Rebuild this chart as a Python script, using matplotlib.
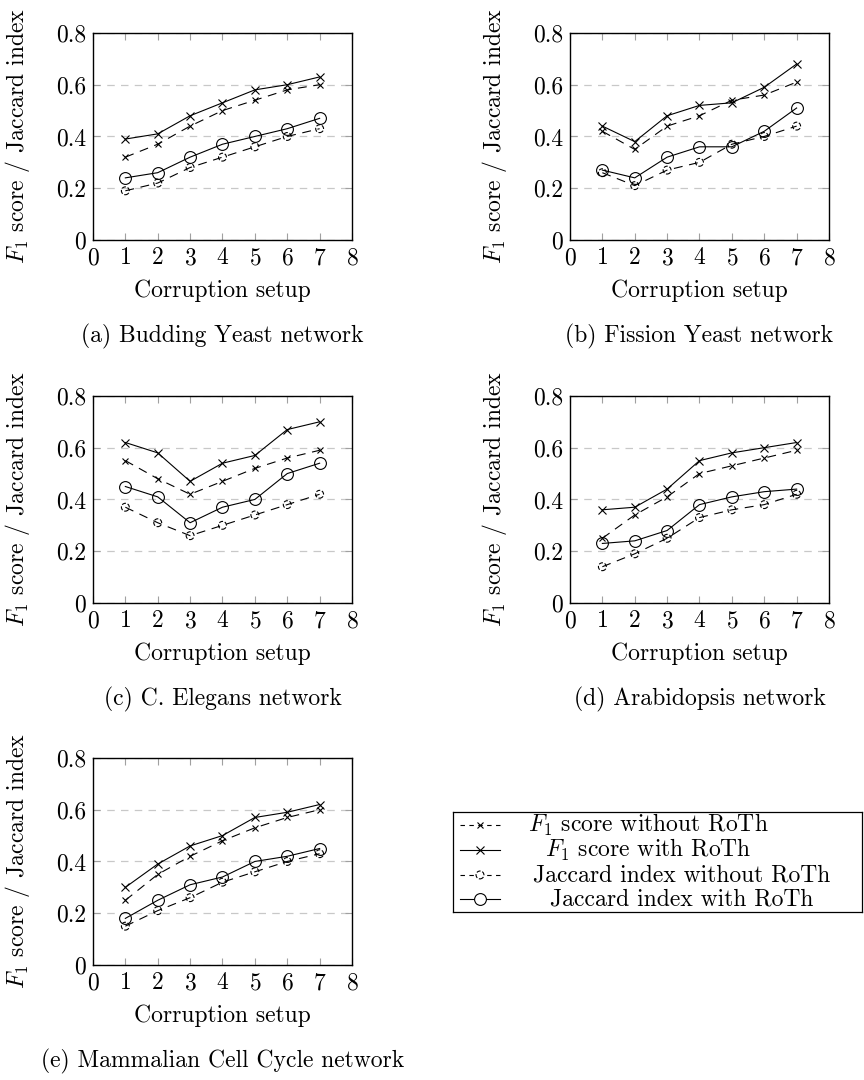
import matplotlib

matplotlib.use("Agg")
import matplotlib.pyplot as plt

plt.rcParams["font.family"] = ["cmr10", "DejaVu Serif"]
plt.rcParams["mathtext.fontset"] = "cm"
plt.rcParams["axes.unicode_minus"] = False
plt.rcParams["axes.formatter.use_mathtext"] = True

# --- data ------------------------------------------------------------------
setups = [1, 2, 3, 4, 5, 6, 7]
x_ticks = [0, 1, 2, 3, 4, 5, 6, 7, 8]
y_ticks = [0, 0.2, 0.4, 0.6, 0.8]
y_tick_labels = ["0", "0.2", "0.4", "0.6", "0.8"]

budding_f1_without = [0.32, 0.37, 0.44, 0.50, 0.54, 0.58, 0.60]
budding_f1_with = [0.39, 0.41, 0.48, 0.53, 0.58, 0.60, 0.63]
budding_jac_without = [0.19, 0.22, 0.28, 0.32, 0.36, 0.40, 0.43]
budding_jac_with = [0.24, 0.26, 0.32, 0.37, 0.40, 0.43, 0.47]

fission_f1_without = [0.42, 0.35, 0.44, 0.48, 0.54, 0.56, 0.61]
fission_f1_with = [0.44, 0.38, 0.48, 0.52, 0.53, 0.59, 0.68]
fission_jac_without = [0.26, 0.21, 0.27, 0.30, 0.37, 0.40, 0.44]
fission_jac_with = [0.27, 0.24, 0.32, 0.36, 0.36, 0.42, 0.51]

elegans_f1_without = [0.55, 0.48, 0.42, 0.47, 0.52, 0.56, 0.59]
elegans_f1_with = [0.62, 0.58, 0.47, 0.54, 0.57, 0.67, 0.70]
elegans_jac_without = [0.37, 0.31, 0.26, 0.30, 0.34, 0.38, 0.42]
elegans_jac_with = [0.45, 0.41, 0.31, 0.37, 0.40, 0.50, 0.54]

arabidopsis_f1_without = [0.25, 0.34, 0.41, 0.50, 0.53, 0.56, 0.59]
arabidopsis_f1_with = [0.36, 0.37, 0.44, 0.55, 0.58, 0.60, 0.62]
arabidopsis_jac_without = [0.14, 0.19, 0.25, 0.33, 0.36, 0.38, 0.42]
arabidopsis_jac_with = [0.23, 0.24, 0.28, 0.38, 0.41, 0.43, 0.44]

mammalian_f1_without = [0.25, 0.35, 0.42, 0.48, 0.53, 0.57, 0.60]
mammalian_f1_with = [0.30, 0.39, 0.46, 0.50, 0.57, 0.59, 0.62]
mammalian_jac_without = [0.15, 0.21, 0.26, 0.32, 0.36, 0.40, 0.43]
mammalian_jac_with = [0.18, 0.25, 0.31, 0.34, 0.40, 0.42, 0.45]

captions = [
    "(a) Budding Yeast network",
    "(b) Fission Yeast network",
    "(c) C. Elegans network",
    "(d) Arabidopsis network",
    "(e) Mammalian Cell Cycle network",
]
series_labels = [
    r"$F_1$ score without RoTh",
    r"$F_1$ score with RoTh",
    "Jaccard index without RoTh",
    "Jaccard index with RoTh",
]

panels = [
    (budding_f1_without, budding_f1_with, budding_jac_without, budding_jac_with),
    (fission_f1_without, fission_f1_with, fission_jac_without, fission_jac_with),
    (elegans_f1_without, elegans_f1_with, elegans_jac_without, elegans_jac_with),
    (arabidopsis_f1_without, arabidopsis_f1_with, arabidopsis_jac_without, arabidopsis_jac_with),
    (mammalian_f1_without, mammalian_f1_with, mammalian_jac_without, mammalian_jac_with),
]

# --- layout (figure fractions) ---------------------------------------------
AX_W, AX_H = 0.2998, 0.1917
positions = [
    (0.1076, 0.7778),
    (0.6597, 0.7778),
    (0.1076, 0.4417),
    (0.6597, 0.4417),
    (0.1076, 0.1065),
]
FS = 17
LW = 0.8
DASH = (0, (8, 6))


def draw_series(ax, f1_without, f1_with, jac_without, jac_with):
    ax.plot(setups, f1_without, color="black", lw=LW, ls=DASH,
            marker="x", ms=4, mew=0.8)
    ax.plot(setups, f1_with, color="black", lw=LW, marker="x", ms=5.5, mew=0.8)
    ax.plot(setups, jac_without, color="black", lw=LW, ls=DASH)
    ax.scatter(setups, jac_without, s=32, facecolors="none", edgecolors="black",
               linewidths=0.8, linestyles="--", zorder=3)
    ax.plot(setups, jac_with, color="black", lw=LW, marker="o", ms=8.5,
            mfc="none", mew=0.8)


def style_axes(ax):
    ax.set_xlim(0, 8)
    ax.set_ylim(0, 0.8)
    ax.set_xticks(x_ticks)
    ax.set_yticks(y_ticks)
    ax.set_yticklabels(y_tick_labels)
    ax.grid(axis="y", color="#c8c8c8", ls=(0, (6, 5)), lw=0.9)
    ax.set_axisbelow(True)
    ax.tick_params(axis="both", direction="in", length=5, width=0.8,
                   color="#a0a0a0", labelsize=FS, pad=5)
    ax.tick_params(axis="x", top=True, bottom=True)
    ax.tick_params(axis="y", left=True, right=True)
    for sp in ax.spines.values():
        sp.set_linewidth(1.0)
    ax.set_xlabel("Corruption setup", fontsize=FS, va="center")
    ax.xaxis.set_label_coords(0.5, -0.246)
    ax.set_ylabel(r"$F_1$ score / Jaccard index", fontsize=FS, va="center")
    ax.yaxis.set_label_coords(-0.29, 0.5)


fig = plt.figure(figsize=(8.64, 10.8), dpi=100)

for (left, bottom), data, caption in zip(positions, panels, captions):
    ax = fig.add_axes([left, bottom, AX_W, AX_H])
    draw_series(ax, *data)
    style_axes(ax)
    fig.text(left + AX_W / 2, bottom - 0.089, caption, ha="center", va="center",
             fontsize=FS)

# --- legend box drawn by hand so the labels can be centred ------------------
lax = fig.add_axes([0.5243, 0.1556, 0.4734, 0.0926])
lax.set_xlim(0, 1)
lax.set_ylim(0, 1)
lax.set_xticks([])
lax.set_yticks([])
for sp in lax.spines.values():
    sp.set_linewidth(0.9)

row_y = [0.87, 0.62, 0.37, 0.13]
text_x = [0.478, 0.478, 0.558, 0.558]
hx = [0.017, 0.115]
lax.plot(hx, [row_y[0]] * 2, color="black", lw=LW, ls=(0, (4, 4)))
lax.plot([0.066], [row_y[0]], color="black", marker="x", ms=4, mew=0.8)
lax.plot(hx, [row_y[1]] * 2, color="black", lw=LW)
lax.plot([0.066], [row_y[1]], color="black", marker="x", ms=5.5, mew=0.8)
lax.plot(hx, [row_y[2]] * 2, color="black", lw=LW, ls=(0, (4, 4)))
lax.scatter([0.066], [row_y[2]], s=32, facecolors="white", edgecolors="black",
            linewidths=0.8, linestyles="--", zorder=3)
lax.plot(hx, [row_y[3]] * 2, color="black", lw=LW)
lax.plot([0.066], [row_y[3]], color="black", marker="o", ms=8.5, mfc="white",
         mew=0.8)
for y, x, label in zip(row_y, text_x, series_labels):
    lax.text(x, y, label, ha="center", va="center", fontsize=FS)

fig.savefig("out.png", dpi=100)
